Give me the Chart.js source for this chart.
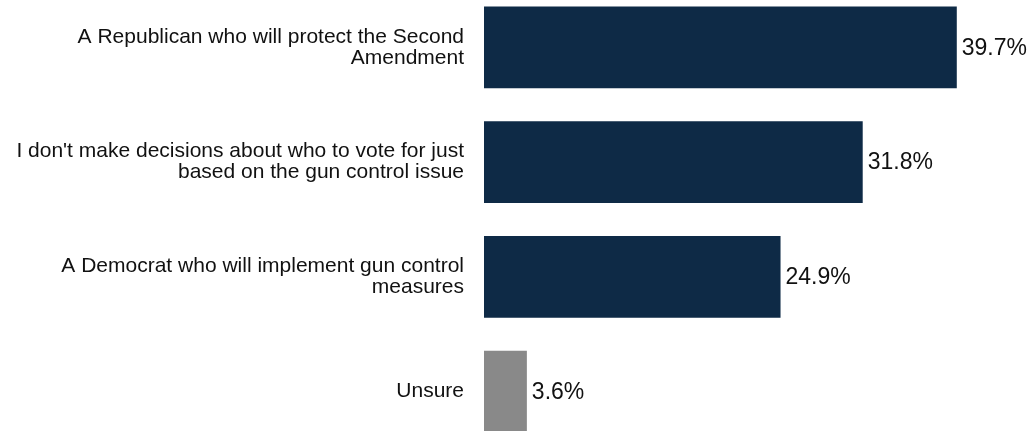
<!DOCTYPE html>
<html>
<head>
<meta charset="utf-8">
<script src="https://cdn.jsdelivr.net/npm/chart.js@4/dist/chart.umd.min.js"></script>
<style>
  html, body { margin: 0; padding: 0; background: #ffffff; overflow: hidden; }
  #wrap { position: absolute; left: 0; top: -10px; width: 1033px; height: 459px; }
</style>
</head>
<body>
<div id="wrap"><canvas id="c"></canvas></div>
<script>
const categories = [
  ["A Republican who will protect the Second", "Amendment"],
  ["I don't make decisions about who to vote for just", "based on the gun control issue"],
  ["A Democrat who will implement gun control", "measures"],
  ["Unsure"]
];
const values = [39.7, 31.8, 24.9, 3.6];
const barColors = ["#0e2a46", "#0e2a46", "#0e2a46", "#898989"];
const valueLabels = values.map(v => v.toFixed(1) + "%");

const valuePlugin = {
  id: "valueLabels",
  afterDatasetsDraw(chart) {
    const ctx = chart.ctx;
    const meta = chart.getDatasetMeta(0);
    ctx.save();
    ctx.font = "23px 'Liberation Sans', Arial, sans-serif";
    ctx.fillStyle = "#111111";
    ctx.textAlign = "left";
    ctx.textBaseline = "middle";
    meta.data.forEach((bar, i) => {
      ctx.fillText(valueLabels[i], bar.x + 5, bar.y + 1);
    });
    ctx.restore();
  }
};

new Chart(document.getElementById("c"), {
  type: "bar",
  data: {
    labels: categories,
    datasets: [{
      data: values,
      backgroundColor: barColors,
      borderWidth: 0,
      categoryPercentage: 1.0,
      barPercentage: 0.714
    }]
  },
  options: {
    indexAxis: "y",
    responsive: true,
    maintainAspectRatio: false,
    animation: false,
    layout: { padding: { left: 0, right: 25, top: 0, bottom: 0 } },
    plugins: { legend: { display: false }, tooltip: { enabled: false } },
    scales: {
      x: {
        min: 0, max: 44,
        display: false,
        grid: { display: false }
      },
      y: {
        grid: { display: false, drawTicks: false },
        border: { display: false },
        afterFit(scale) {
          scale.width = 484;
          scale.paddingTop = 0;
          scale.paddingBottom = 0;
        },
        ticks: {
          padding: 20,
          color: "#111111",
          font: { family: "'Liberation Sans', Arial, sans-serif", size: 21, lineHeight: 1.0 }
        }
      }
    }
  },
  plugins: [valuePlugin]
});
</script>
</body>
</html>
